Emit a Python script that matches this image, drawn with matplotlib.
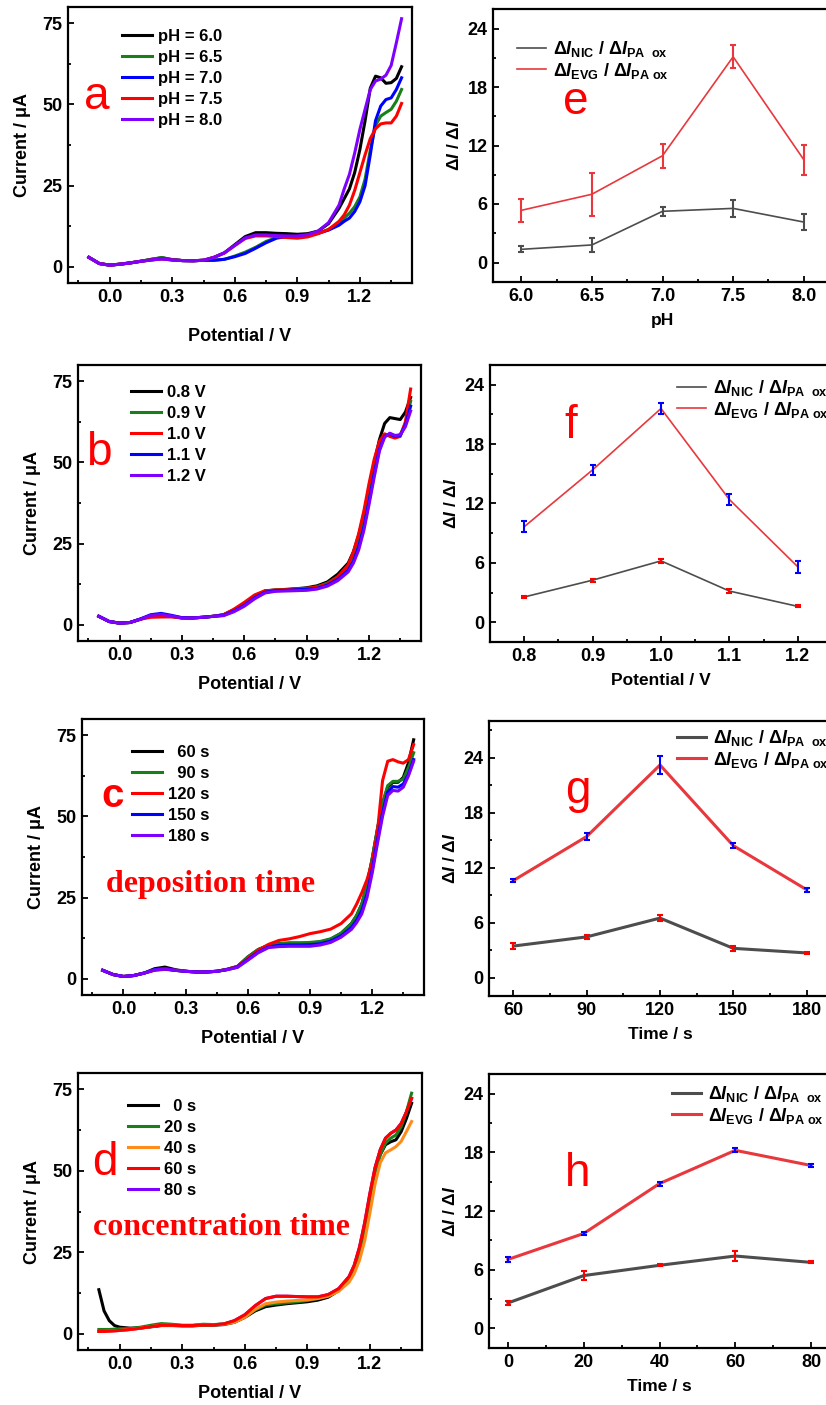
import numpy as np
import matplotlib
matplotlib.use('Agg')
import matplotlib.pyplot as plt
from matplotlib.ticker import MultipleLocator, FormatStrFormatter

plt.rcParams['font.family'] = ['Liberation Sans', 'DejaVu Sans']
plt.rcParams['font.weight'] = 'bold'
plt.rcParams['mathtext.fontset'] = 'custom'
plt.rcParams['mathtext.rm'] = 'Liberation Sans:bold'
plt.rcParams['mathtext.it'] = 'Liberation Sans:italic:bold'
plt.rcParams['mathtext.bf'] = 'Liberation Sans:bold'

# ---------------- voltammograms (a-c share one potential grid) ----------------
potential = [-0.10, -0.05, 0.00, 0.05, 0.10, 0.15, 0.20, 0.25, 0.30, 0.35, 0.40, 0.45,
             0.50, 0.55, 0.60, 0.65, 0.70, 0.75, 0.80, 0.85, 0.90, 0.95, 1.00, 1.05, 1.10,
             1.125, 1.15, 1.175, 1.20, 1.225, 1.25, 1.275, 1.30, 1.325, 1.35, 1.375, 1.40]

# a: pH
ph_labels = ['pH = 6.0', 'pH = 6.5', 'pH = 7.0', 'pH = 7.5', 'pH = 8.0']
a_ph60 = [2.9, 1.0, 0.5, 0.8, 1.2, 1.7, 2.3, 2.8, 2.2, 1.9, 1.85, 2.0,
          2.9, 4.3, 6.8, 9.3, 10.5, 10.5, 10.3, 10.2, 10.0, 10.2, 11.0, 13.3, 18.0,
          21.0, 24.0, 29.0, 36.1, 45.0, 55.0, 58.7, 58.2, 56.5, 56.7, 58.0, 61.6]
a_ph65 = [2.9, 1.0, 0.5, 0.8, 1.2, 1.7, 2.3, 2.8, 2.2, 1.9, 1.85, 2.0,
          2.0, 2.3, 3.3, 4.5, 6.0, 7.8, 9.0, 9.3, 9.3, 9.6, 10.3, 11.5, 13.5,
          15.0, 16.5, 18.5, 21.5, 27.0, 36.0, 43.5, 46.4, 47.5, 48.5, 51.0, 54.6]
a_ph70 = [2.9, 1.0, 0.5, 0.8, 1.2, 1.7, 2.1, 2.5, 2.1, 1.9, 1.85, 2.0,
          2.0, 2.3, 3.1, 4.1, 5.7, 7.4, 8.8, 9.3, 9.3, 9.6, 10.3, 11.3, 12.8,
          14.0, 15.0, 17.0, 20.0, 25.0, 34.5, 45.0, 49.5, 51.5, 52.0, 54.6, 58.2]
a_ph75 = [2.9, 1.0, 0.5, 0.8, 1.2, 1.7, 2.1, 2.4, 2.1, 1.9, 1.85, 2.0,
          2.9, 4.2, 6.5, 8.7, 9.5, 9.5, 9.3, 9.0, 8.8, 9.2, 10.2, 11.5, 14.0,
          16.0, 19.0, 23.5, 29.0, 34.5, 39.5, 42.5, 44.0, 44.3, 44.3, 46.4, 50.3]
a_ph80 = [2.9, 1.0, 0.5, 0.8, 1.2, 1.7, 2.1, 2.4, 2.1, 1.9, 1.85, 2.0,
          2.9, 4.3, 6.6, 8.9, 9.8, 9.8, 9.6, 9.5, 9.5, 9.9, 11.0, 13.6, 19.0,
          24.0, 28.5, 35.0, 42.3, 48.5, 54.6, 57.2, 57.8, 59.0, 62.0, 69.0, 76.4]

# b: deposition potential
dep_v_labels = ['0.8 V', '0.9 V', '1.0 V', '1.1 V', '1.2 V']
b_08 = [2.6, 1.0, 0.5, 0.7, 1.7, 2.8, 3.0, 2.6, 2.1, 2.1, 2.3, 2.6,
        3.1, 4.6, 6.5, 8.8, 10.4, 10.7, 10.9, 11.1, 11.4, 12.0, 13.2, 15.6, 19.0,
        22.5, 27.5, 34.0, 42.0, 50.0, 57.0, 62.0, 63.8, 63.5, 63.2, 65.5, 70.0]
b_09 = [2.6, 1.0, 0.5, 0.7, 1.7, 2.8, 3.0, 2.6, 2.1, 2.1, 2.3, 2.6,
        3.0, 4.5, 6.6, 8.9, 10.4, 10.7, 10.8, 11.0, 11.2, 11.7, 12.8, 14.8, 18.0,
        21.5, 26.5, 33.0, 41.0, 49.0, 55.5, 58.5, 58.5, 58.0, 58.5, 62.0, 68.8]
b_10 = [2.6, 1.0, 0.5, 0.7, 1.7, 2.3, 2.4, 2.4, 2.1, 2.1, 2.3, 2.6,
        3.1, 4.8, 6.9, 9.2, 10.5, 10.7, 10.8, 11.0, 11.2, 11.6, 12.6, 14.8, 18.5,
        22.5, 28.0, 35.0, 43.5, 51.0, 56.5, 58.8, 58.0, 57.5, 58.0, 62.5, 72.6]
b_11 = [2.6, 1.0, 0.5, 0.7, 1.8, 3.1, 3.5, 2.9, 2.2, 2.1, 2.3, 2.6,
        2.9, 4.2, 6.0, 8.3, 10.0, 10.5, 10.6, 10.8, 10.9, 11.2, 12.2, 14.0, 16.8,
        19.5, 24.0, 30.0, 38.0, 46.5, 54.0, 58.0, 58.8, 58.0, 58.3, 61.5, 67.3]
b_12 = [2.6, 1.0, 0.5, 0.7, 1.7, 2.9, 3.2, 2.7, 2.1, 2.1, 2.3, 2.6,
        2.8, 4.0, 5.7, 8.0, 9.8, 10.3, 10.4, 10.5, 10.6, 11.0, 11.9, 13.6, 16.3,
        19.0, 23.0, 29.0, 37.0, 45.5, 53.5, 57.8, 59.0, 58.3, 58.5, 61.0, 65.8]

# c: deposition time
dep_t_labels = ['  60 s', '  90 s', '120 s', '150 s', '180 s']
c_60 = [2.6, 1.3, 0.7, 1.0, 1.75, 3.1, 3.6, 2.8, 2.3, 2.1, 2.1, 2.3,
        2.9, 3.8, 6.7, 9.0, 10.3, 10.8, 11.0, 11.0, 11.0, 11.3, 12.2, 14.0, 17.0,
        19.5, 23.0, 29.0, 37.0, 46.0, 54.0, 59.0, 60.5, 60.5, 62.0, 66.5, 73.6]
c_90 = [2.6, 1.3, 0.7, 1.0, 1.75, 2.8, 3.1, 2.6, 2.3, 2.1, 2.1, 2.3,
        2.9, 3.8, 6.7, 9.0, 10.3, 10.8, 11.0, 11.0, 11.2, 11.5, 12.3, 14.0, 17.0,
        19.5, 23.0, 29.0, 37.0, 46.0, 54.0, 59.5, 60.8, 60.8, 61.5, 65.0, 69.6]
c_120 = [2.6, 1.3, 0.7, 1.0, 1.75, 2.6, 2.9, 2.6, 2.3, 2.1, 2.1, 2.3,
         2.9, 3.8, 6.2, 8.8, 10.6, 11.8, 12.3, 13.0, 13.9, 14.5, 15.3, 17.0, 20.0,
         23.0, 26.5, 30.5, 36.0, 45.0, 61.0, 67.0, 67.5, 66.8, 66.4, 67.5, 72.1]
c_150 = [2.6, 1.3, 0.7, 1.0, 1.75, 2.8, 3.1, 2.6, 2.3, 2.1, 2.1, 2.3,
         2.8, 3.6, 5.9, 8.2, 9.8, 10.3, 10.4, 10.4, 10.5, 10.8, 11.6, 13.2, 15.8,
         18.0, 21.0, 26.0, 33.5, 42.5, 51.0, 57.5, 59.2, 59.0, 60.0, 63.0, 67.5]
c_180 = [2.6, 1.3, 0.7, 1.0, 1.75, 2.7, 3.0, 2.6, 2.3, 2.1, 2.1, 2.3,
         2.8, 3.5, 5.7, 8.0, 9.6, 9.9, 10.0, 10.0, 10.0, 10.4, 11.2, 12.8, 15.2,
         17.3, 20.0, 25.0, 32.5, 41.5, 50.0, 56.5, 58.0, 57.8, 59.0, 62.5, 67.0]

# d: concentration time (extra points near the start)
potential_d = [-0.10, -0.075, -0.05, -0.025, 0.00, 0.05, 0.10, 0.15, 0.20, 0.25, 0.30, 0.35,
               0.40, 0.45, 0.50, 0.55, 0.60, 0.65, 0.70, 0.75, 0.80, 0.85, 0.90, 0.95,
               1.00, 1.05, 1.10, 1.125, 1.15, 1.175, 1.20, 1.225, 1.25, 1.275, 1.30,
               1.325, 1.35, 1.375, 1.40]
conc_t_labels = ['  0 s', '20 s', '40 s', '60 s', '80 s']
d_0 = [13.5, 7.0, 4.0, 2.5, 2.0, 1.7, 1.8, 2.1, 2.5, 2.5, 2.4, 2.4,
       2.6, 2.6, 2.8, 3.5, 5.0, 7.0, 8.3, 8.8, 9.2, 9.5, 9.8, 10.3,
       11.2, 13.2, 16.8, 20.0, 25.0, 32.5, 42.0, 50.0, 55.0, 58.0, 58.9,
       59.5, 62.0, 66.0, 70.7]
d_20 = [1.3, 1.3, 1.3, 1.4, 1.5, 1.6, 2.0, 2.6, 3.1, 2.9, 2.6, 2.6,
        2.9, 2.8, 3.0, 3.8, 5.2, 7.3, 8.8, 9.2, 9.5, 9.8, 10.2, 10.8,
        11.8, 13.5, 16.8, 20.0, 25.0, 32.0, 41.0, 49.5, 55.0, 58.5, 60.0,
        61.0, 63.5, 68.0, 73.8]
d_40 = [0.7, 0.7, 0.8, 0.9, 1.0, 1.3, 1.7, 2.2, 2.6, 2.6, 2.5, 2.5,
        2.7, 2.7, 2.9, 3.5, 5.0, 7.5, 9.2, 9.7, 10.0, 10.2, 10.4, 10.8,
        11.5, 13.0, 15.8, 18.5, 22.5, 28.5, 37.0, 46.0, 52.5, 55.5, 56.4,
        57.4, 59.0, 62.0, 65.1]
d_60 = [0.7, 0.7, 0.8, 0.9, 1.0, 1.3, 1.7, 2.2, 2.6, 2.6, 2.5, 2.5,
        2.7, 2.7, 3.0, 4.0, 5.8, 8.6, 10.8, 11.5, 11.5, 11.4, 11.3, 11.3,
        12.0, 13.8, 17.5, 21.0, 26.5, 34.0, 43.0, 51.0, 56.5, 60.0, 61.5,
        62.5, 64.5, 68.0, 72.2]
d_80 = [0.7, 0.7, 0.8, 0.9, 1.0, 1.3, 1.7, 2.2, 2.6, 2.6, 2.5, 2.5,
        2.7, 2.7, 3.0, 4.0, 5.8, 8.6, 10.8, 11.5, 11.5, 11.4, 11.3, 11.3,
        12.0, 13.8, 17.5, 21.0, 26.5, 34.0, 43.0, 51.0, 56.5, 60.0, 61.5,
        62.5, 64.5, 68.0, 72.2]

# ---------------- ratio plots ----------------
ph_x = [6.0, 6.5, 7.0, 7.5, 8.0]
e_nic = [1.35, 1.8, 5.25, 5.55, 4.15]
e_nic_err = [0.3, 0.75, 0.45, 0.85, 0.85]
e_evg = [5.35, 7.0, 10.95, 21.1, 10.55]
e_evg_err = [1.15, 2.2, 1.25, 1.2, 1.55]

pot_x = [0.8, 0.9, 1.0, 1.1, 1.2]
f_nic = [2.55, 4.25, 6.2, 3.15, 1.6]
f_nic_err = [0.1, 0.15, 0.2, 0.2, 0.1]
f_evg = [9.65, 15.4, 21.6, 12.4, 5.6]
f_evg_err = [0.55, 0.5, 0.6, 0.6, 0.6]

dep_time_x = [60, 90, 120, 150, 180]
g_nic = [3.45, 4.45, 6.5, 3.2, 2.7]
g_nic_err = [0.3, 0.2, 0.35, 0.3, 0.1]
g_evg = [10.6, 15.4, 23.2, 14.4, 9.6]
g_evg_err = [0.15, 0.35, 1.0, 0.3, 0.2]

conc_time_x = [0, 20, 40, 60, 80]
h_nic = [2.6, 5.4, 6.45, 7.4, 6.75]
h_nic_err = [0.25, 0.45, 0.1, 0.55, 0.1]
h_evg = [7.05, 9.7, 14.8, 18.2, 16.65]
h_evg_err = [0.3, 0.15, 0.2, 0.2, 0.2]

colors_a = ['#000000', '#1a7f1a', '#0000ff', '#ff0000', '#8000ff']
colors_bc = ['#000000', '#1a7f1a', '#ff0000', '#0000ff', '#8000ff']
colors_d = ['#000000', '#1a7f1a', '#ff8c1a', '#ff0000', '#8000ff']
gray = '#4d4d4d'
red_line = '#e8383d'
lab_nic = r'$\Delta I_{\mathrm{NIC}}$ / $\Delta I_{\mathrm{PA\ \ ox}}$'
lab_evg = r'$\Delta I_{\mathrm{EVG}}$ / $\Delta I_{\mathrm{PA\ ox}}$'

W, H = 826, 1405
fig = plt.figure(figsize=(W / 100, H / 100), dpi=100)


def box(l, t, r, b):
    return fig.add_axes([l / W, 1 - b / H, (r - l) / W, (b - t) / H])


def style(ax):
    for s in ax.spines.values():
        s.set_linewidth(1.6)
    ax.tick_params(which='both', direction='in', width=1.3, labelsize=13, pad=4)
    ax.tick_params(which='major', length=4)
    ax.tick_params(which='minor', length=2.5)


def cv_panel(rect, E, curves, labels, colors, leg_xy, zorders=None, xpad=9):
    ax = box(*rect)
    style(ax)
    for i, (y, lab, c) in enumerate(zip(curves, labels, colors)):
        z = 2 if zorders is None else zorders[i]
        ax.plot(E, y, color=c, lw=2.2, label=lab, zorder=z)
    ax.set_xlim(-0.2, 1.45)
    ax.set_ylim(-5, 80)
    ax.xaxis.set_major_locator(MultipleLocator(0.3))
    ax.xaxis.set_minor_locator(MultipleLocator(0.15))
    ax.xaxis.set_major_formatter(FormatStrFormatter('%.1f'))
    ax.yaxis.set_major_locator(MultipleLocator(25))
    ax.yaxis.set_minor_locator(MultipleLocator(12.5))
    ax.set_xlabel('Potential / V', fontsize=13, fontweight='bold', labelpad=xpad)
    ax.set_ylabel('Current / μA', fontsize=13, fontweight='bold', labelpad=8)
    l, t, r, b = rect
    lx = (leg_xy[0] - l) / (r - l)
    ly = (b - leg_xy[1]) / (b - t)
    ax.legend(loc='upper left', bbox_to_anchor=(lx, ly), frameon=False, borderpad=0,
              borderaxespad=0, handlelength=1.8, handletextpad=0.35, labelspacing=0.36,
              prop={'weight': 'bold', 'size': 12})
    return ax


def ratio_panel(rect, x, nic, nic_err, evg, evg_err, xlim, ylim, xstep, fmt, xlabel,
                lw, nic_ecolor, evg_ecolor, leg_xy):
    ax = box(*rect)
    style(ax)
    ax.plot(x, nic, color=gray, lw=lw, label=lab_nic, zorder=2)
    ax.plot(x, evg, color=red_line, lw=lw, label=lab_evg, zorder=2)
    ax.errorbar(x, nic, yerr=nic_err, fmt='none', ecolor=nic_ecolor, elinewidth=1.5,
                capsize=2.5, capthick=1.5, zorder=3)
    ax.errorbar(x, evg, yerr=evg_err, fmt='none', ecolor=evg_ecolor, elinewidth=1.5,
                capsize=2.5, capthick=1.5, zorder=3)
    ax.set_xlim(*xlim)
    ax.set_ylim(*ylim)
    ax.xaxis.set_major_locator(MultipleLocator(xstep))
    ax.xaxis.set_minor_locator(MultipleLocator(xstep / 2))
    ax.xaxis.set_major_formatter(FormatStrFormatter(fmt))
    ax.yaxis.set_major_locator(MultipleLocator(6))
    ax.yaxis.set_minor_locator(MultipleLocator(3))
    ax.set_xlabel(xlabel, fontsize=12.5, fontweight='bold', labelpad=6)
    ax.set_ylabel(r'$\Delta I$ / $\Delta I$', fontsize=12.5, fontweight='bold', labelpad=4)
    l, t, r, b = rect
    lx = (leg_xy[0] - l) / (r - l)
    ly = (b - leg_xy[1]) / (b - t)
    ax.legend(loc='upper left', bbox_to_anchor=(lx, ly), frameon=False, borderpad=0,
              borderaxespad=0, handlelength=1.6, handletextpad=0.4, labelspacing=0.1,
              prop={'weight': 'bold', 'size': 13})
    return ax


cv_panel((68, 7, 412, 283), potential, [a_ph60, a_ph65, a_ph70, a_ph75, a_ph80],
         ph_labels, colors_a, (122, 29), xpad=16)
cv_panel((78, 365, 421, 641), potential, [b_08, b_09, b_10, b_11, b_12],
         dep_v_labels, colors_bc, (131, 385))
cv_panel((82, 719, 424, 995), potential, [c_60, c_90, c_120, c_150, c_180],
         dep_t_labels, colors_bc, (132, 745))
cv_panel((78, 1073, 422, 1350), potential_d, [d_0, d_20, d_40, d_60, d_80],
         conc_t_labels, colors_d, (128, 1099), zorders=[3, 3, 3, 4, 2])

ratio_panel((493, 9, 832, 282), ph_x, e_nic, e_nic_err, e_evg, e_evg_err,
            (5.8, 8.2), (-2, 26), 0.5, '%.1f', 'pH', 1.2, gray, red_line, (517, 39))
ratio_panel((490, 365, 832, 642), pot_x, f_nic, f_nic_err, f_evg, f_evg_err,
            (0.75, 1.25), (-2, 26), 0.1, '%.1f', 'Potential / V', 1.2, '#ff0000', '#0000ff',
            (677, 378))
ratio_panel((489, 721, 831, 996), dep_time_x, g_nic, g_nic_err, g_evg, g_evg_err,
            (50, 190), (-2, 28), 30, '%d', 'Time / s', 2.2, '#ff0000', '#0000ff',
            (677, 728))
ratio_panel((489, 1074, 830, 1348), conc_time_x, h_nic, h_nic_err, h_evg, h_evg_err,
            (-5, 85), (-2, 26), 20, '%d', 'Time / s', 2.2, '#ff0000', '#0000ff',
            (672, 1084))


def px_text(x, y, s, **kw):
    fig.text(x / W, 1 - y / H, s, **kw)


letter = dict(color='#ff0000', fontsize=33, fontweight='normal', va='baseline', ha='left')
px_text(84, 109, 'a', **letter)
px_text(86, 465, 'b', **letter)
px_text(101, 807, 'c', color='#ff0000', fontsize=29, fontweight='bold', va='baseline',
        ha='left')
px_text(92, 1175, 'd', **letter)
px_text(563, 114, 'e', **letter)
px_text(564, 438, 'f', **letter)
px_text(565, 803, 'g', **letter)
px_text(565, 1186, 'h', **letter)

serif = dict(color='#ff0000', fontsize=23, fontweight='bold', family='Liberation Serif',
             va='baseline', ha='left')
px_text(106, 892, 'deposition time', **serif)
px_text(93, 1235, 'concentration time', **serif)

fig.savefig('out.png', dpi=100)
